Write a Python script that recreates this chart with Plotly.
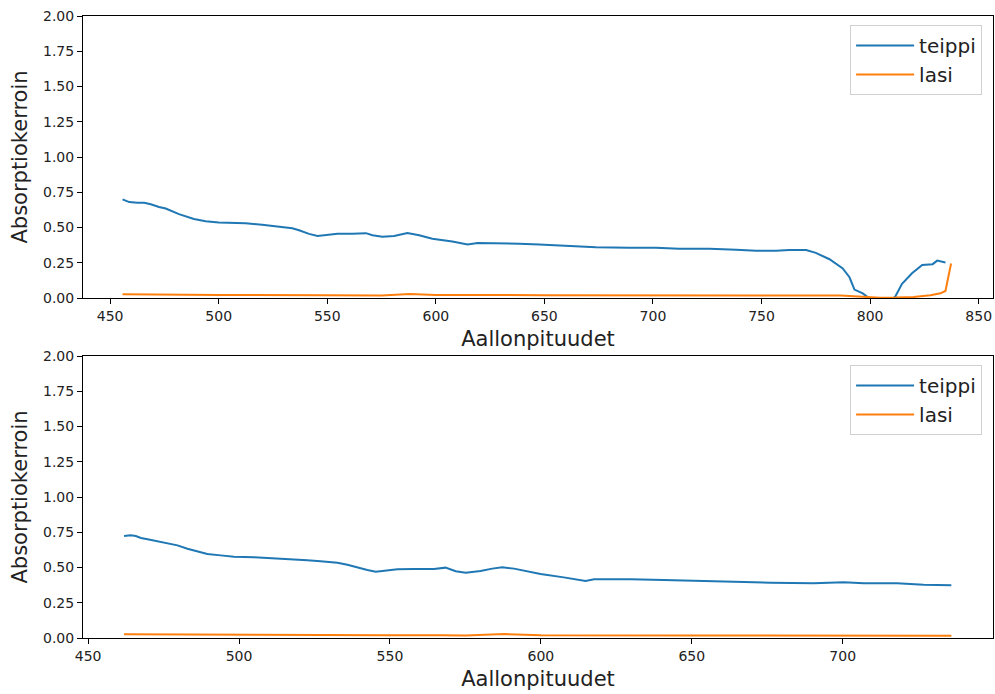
import plotly.graph_objects as go

# --- Upper panel: full measured range -------------------------------------
wl_teippi_1 = [455.7, 458.8, 462.6, 465.7, 468.7, 472.5, 475.6, 481.7, 488.6, 494.0,
               500.0, 506.3, 512.4, 520.0, 527.8, 533.9, 537.0, 541.6, 545.5, 549.3,
               554.7, 561.6, 567.8, 570.8, 575.4, 580.8, 586.9, 592.3, 598.4, 607.6,
               614.6, 619.2, 629.2, 638.4, 647.6, 655.3, 673.7, 689.0, 701.4, 712.0,
               726.0, 738.3, 747.5, 756.7, 762.8, 770.5, 775.0, 781.3, 787.4, 790.5,
               792.8, 796.6, 798.6, 802.0, 806.0, 809.5, 811.6, 814.7, 819.3, 824.0,
               827.0, 828.8, 830.9, 834.7]
abs_teippi_1 = [0.700, 0.680, 0.675, 0.675, 0.665, 0.645, 0.635, 0.595, 0.560, 0.545,
                0.535, 0.535, 0.530, 0.520, 0.505, 0.495, 0.480, 0.455, 0.440, 0.445,
                0.456, 0.456, 0.460, 0.445, 0.435, 0.440, 0.460, 0.445, 0.420, 0.400,
                0.380, 0.390, 0.390, 0.385, 0.380, 0.375, 0.360, 0.357, 0.357, 0.350,
                0.350, 0.343, 0.335, 0.335, 0.340, 0.340, 0.320, 0.275, 0.210, 0.147,
                0.060, 0.033, 0.010, -0.020, -0.030, -0.015, 0.010, 0.100, 0.175, 0.234,
                0.240, 0.240, 0.265, 0.252]

wl_lasi_1 = [455.7, 470.0, 500.0, 550.0, 567.0, 570.0, 575.0, 588.0, 600.0, 650.0,
             700.0, 750.0, 780.0, 786.5, 798.6, 804.7, 812.0, 820.0, 827.8, 832.4,
             834.7, 837.3]
abs_lasi_1 = [0.027, 0.025, 0.022, 0.020, 0.020, 0.022, 0.017, 0.028, 0.022, 0.020,
              0.020, 0.018, 0.020, 0.018, 0.007, 0.002, 0.003, 0.007, 0.020, 0.033,
              0.050, 0.245]

# --- Lower panel: trimmed range -------------------------------------------
wl_teippi_2 = [461.9, 464.1, 465.8, 467.5, 469.7, 473.0, 476.3, 479.6, 482.9, 486.2,
               489.5, 493.9, 498.3, 505.0, 510.5, 516.0, 522.6, 527.0, 532.6, 535.9,
               539.2, 542.5, 545.3, 548.6, 552.5, 558.0, 564.6, 568.4, 571.8, 575.1,
               580.0, 583.9, 587.2, 591.1, 594.4, 599.9, 607.6, 614.8, 617.6, 623.1,
               629.7, 640.7, 651.8, 662.8, 676.1, 690.4, 700.3, 707.0, 718.0, 726.8,
               736.0]
abs_teippi_2 = [0.723, 0.728, 0.723, 0.709, 0.700, 0.686, 0.672, 0.657, 0.633, 0.612,
                0.596, 0.586, 0.577, 0.572, 0.567, 0.560, 0.551, 0.544, 0.534, 0.520,
                0.500, 0.482, 0.470, 0.477, 0.487, 0.489, 0.489, 0.499, 0.473, 0.463,
                0.475, 0.492, 0.501, 0.492, 0.477, 0.454, 0.430, 0.404, 0.416, 0.418,
                0.416, 0.411, 0.404, 0.400, 0.392, 0.388, 0.395, 0.388, 0.388, 0.378,
                0.374]

wl_lasi_2 = [461.9, 480.0, 500.0, 550.0, 567.0, 575.0, 588.0, 600.0, 650.0, 700.0, 736.0]
abs_lasi_2 = [0.026, 0.024, 0.022, 0.020, 0.020, 0.017, 0.028, 0.020, 0.018, 0.017, 0.016]

x_range_1 = [437.5, 856.6]
x_range_2 = [448.3, 749.8]
y_range = [0, 2]

BLUE = "#1f77b4"
ORANGE = "#ff7f0e"
FONT = "DejaVu Sans"

fig = go.Figure()

fig.add_trace(go.Scatter(x=wl_teippi_1, y=abs_teippi_1, mode="lines", name="teippi",
                         line=dict(color=BLUE, width=2), xaxis="x", yaxis="y",
                         legend="legend"))
fig.add_trace(go.Scatter(x=wl_lasi_1, y=abs_lasi_1, mode="lines", name="lasi",
                         line=dict(color=ORANGE, width=2), xaxis="x", yaxis="y",
                         legend="legend"))
fig.add_trace(go.Scatter(x=wl_teippi_2, y=abs_teippi_2, mode="lines", name="teippi",
                         line=dict(color=BLUE, width=2), xaxis="x2", yaxis="y2",
                         legend="legend2"))
fig.add_trace(go.Scatter(x=wl_lasi_2, y=abs_lasi_2, mode="lines", name="lasi",
                         line=dict(color=ORANGE, width=2), xaxis="x2", yaxis="y2",
                         legend="legend2"))

H = 694
M_T, M_B = 16, 56
plot_h = H - M_T - M_B
top_dom = [1 - 282 / plot_h, 1]
bot_dom = [0, 282 / plot_h]

axis_common = dict(showline=True, linecolor="black", linewidth=1, mirror=True,
                   ticks="outside", ticklen=5, tickwidth=1, tickcolor="black",
                   showgrid=False, zeroline=False,
                   tickfont=dict(family=FONT, size=14, color="#222"))

xt = dict(text="Aallonpituudet", font=dict(family=FONT, size=21, color="#222"), standoff=8)
yt = dict(text="Absorptiokerroin", font=dict(family=FONT, size=21, color="#222"), standoff=9)

legend_common = dict(bgcolor="white", bordercolor="#d0d0d0", borderwidth=1,
                     font=dict(family=FONT, size=20, color="#222"),
                     xanchor="right", yanchor="top", x=0.988, tracegroupgap=0,
                     itemwidth=58)

fig.update_layout(
    width=995, height=H,
    margin=dict(l=83, r=2, t=M_T, b=M_B),
    paper_bgcolor="white", plot_bgcolor="white",
    xaxis=dict(domain=[0, 1], anchor="y", range=x_range_1, dtick=50, tick0=450,
               title=xt, **axis_common),
    yaxis=dict(domain=top_dom, anchor="x", range=y_range, dtick=0.25, tickformat=".2f",
               title=yt, **axis_common),
    xaxis2=dict(domain=[0, 1], anchor="y2", range=x_range_2, dtick=50, tick0=450,
                title=xt, **axis_common),
    yaxis2=dict(domain=bot_dom, anchor="x2", range=y_range, dtick=0.25, tickformat=".2f",
                title=yt, **axis_common),
    legend=dict(y=1 - (25 - M_T) / plot_h, **legend_common),
    legend2=dict(y=1 - (365 - M_T) / plot_h, **legend_common),
    showlegend=True,
)

fig.write_html("out.html")
